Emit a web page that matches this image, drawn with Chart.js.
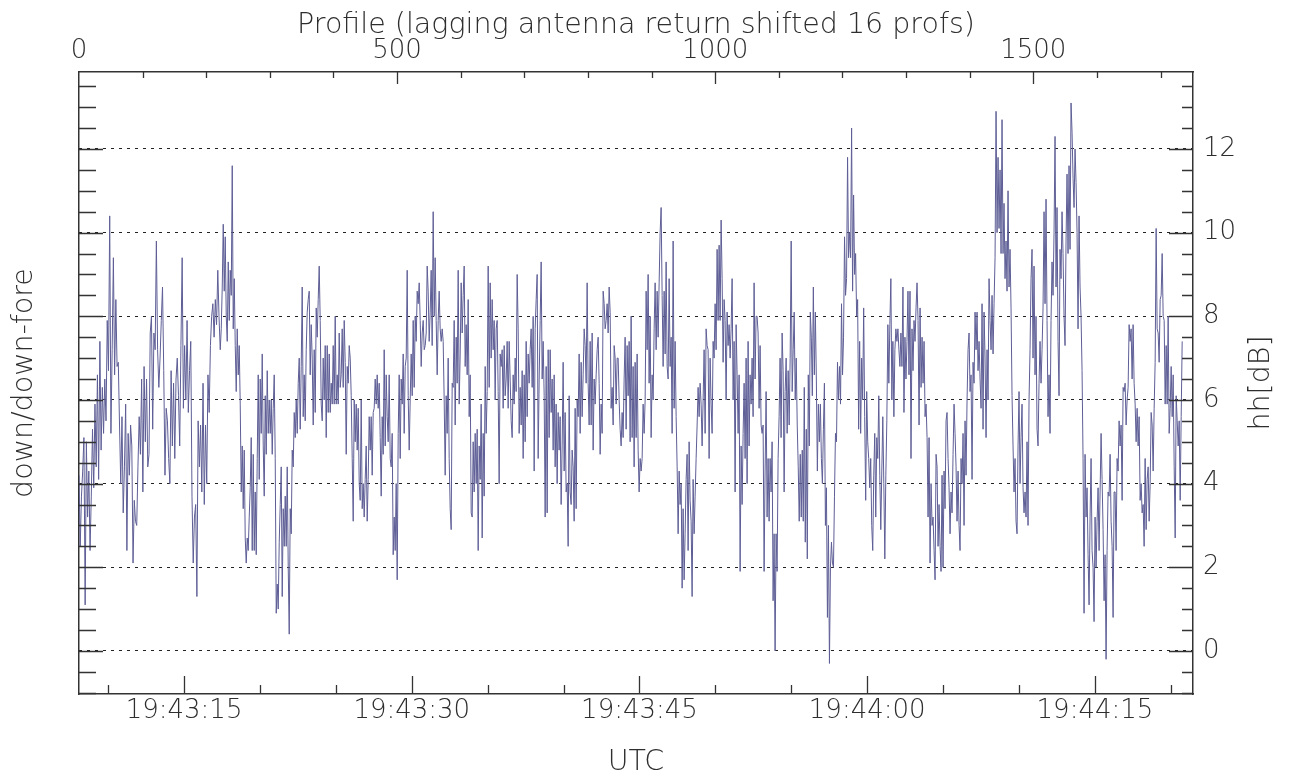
<!DOCTYPE html>
<html lang="en">

<head>
    <meta charset="UTF-8">
    <title>hh - lagging antenna</title>
    <style>
        body { margin: 0; background: #fff; }
        .grafico { width: 1289px; height: 783px; }
    </style>
</head>

<body>
    <div class="grafico">
        <canvas id="perfil"></canvas>
    </div>
</body>

</html>
<script src="https://cdn.jsdelivr.net/npm/chart.js"></script>
<script>

    // profile number where each traced stretch of the curve starts (last one ends at profEnd)
    const segStart = [0, 222, 442, 662, 882, 1102, 1322, 1542];
    const profEnd = 1734;

    const hh1 = [4.2, 2.5, 3.7, 4.3, 5.1, 1.1, 5.0, 3.2, 4.3, 2.4, 3.7, 5.3, 3.9, 5.9, 4.4, 6.6, 4.1, 7.4, 4.8, 6.3,
        5.2, 6.5, 5.5, 7.9, 6.7, 10.4, 5.2, 7.2, 9.4, 6.6, 8.4, 6.8, 6.9, 5.4, 4.0, 5.6, 3.3, 4.4, 5.9, 2.4,
        5.2, 4.2, 5.4, 4.9, 2.1, 3.6, 3.1, 3.0, 4.4, 5.6, 4.7, 6.5, 3.8, 6.8, 5.0, 6.5, 4.4, 4.7, 7.6, 8.0,
        5.3, 7.6, 7.2, 9.8, 7.2, 6.3, 7.0, 7.9, 8.7, 6.7, 4.2, 5.8, 5.5, 4.6, 4.0, 6.7, 4.9, 6.4, 4.6, 6.5,
        7.0, 6.1, 4.9, 7.3, 9.4, 5.8, 7.3, 6.0, 7.9, 5.7, 6.7, 7.4, 3.7, 2.1, 3.2, 3.5, 1.3, 5.5, 4.4, 5.4,
        3.8, 6.4, 3.5, 5.4, 4.0, 6.6, 5.7, 7.3, 8.0, 8.3, 7.5, 8.4, 7.8, 9.1, 8.0];
    const hh2 = [7.2, 7.7, 8.7, 10.2, 8.6, 9.9, 8.0, 7.4, 9.3, 7.9, 9.1, 8.5, 11.6, 7.7, 8.9, 7.3, 6.2, 7.7, 6.6, 7.3,
        5.9, 3.8, 4.9, 3.4, 4.8, 2.7, 2.1, 2.7, 2.4, 3.2, 3.9, 5.1, 2.4, 4.7, 2.4, 3.8, 2.3, 4.6, 6.6, 4.1,
        6.5, 5.2, 7.1, 4.9, 3.7, 6.1, 4.7, 6.7, 5.2, 6.0, 5.2, 6.0, 4.7, 5.8, 6.6, 4.6, 0.9, 1.6, 1.0, 2.6,
        3.5, 4.4, 1.3, 3.4, 2.5, 3.7, 2.5, 4.4, 2.0, 0.4, 3.4, 2.8, 4.8, 4.4, 5.7, 5.1, 6.0, 5.2, 6.4, 7.0,
        5.3, 6.8, 8.7, 5.6, 6.6, 5.5, 7.2, 8.1, 8.4, 8.6, 6.6, 7.8, 7.0, 5.4, 7.2, 5.7, 8.2, 7.5, 8.4, 9.2,
        7.9, 5.9, 5.5, 7.0, 6.0, 7.3, 5.1, 7.3, 5.7, 7.1, 5.7, 6.4, 5.9, 7.3, 5.9, 8.0, 5.9, 6.6, 5.9, 7.6,
        6.3, 6.6, 7.7, 6.3, 7.9, 6.9, 4.7, 6.8, 6.4, 7.3, 7.0, 6.1, 4.6, 3.1, 6.0, 5.0, 5.9, 4.8, 5.8, 4.0];
    const hh3 = [3.6, 6.0, 3.4, 4.0, 3.2, 4.1, 4.9, 3.1, 4.1, 5.6, 4.8, 5.6, 4.2, 5.7, 5.8, 6.5, 5.9, 6.6, 5.8, 6.4,
        5.1, 3.7, 5.6, 4.7, 7.2, 4.9, 6.6, 5.6, 5.0, 6.6, 4.6, 4.4, 5.2, 2.3, 3.2, 2.4, 4.0, 1.7, 5.2, 6.6,
        4.6, 6.5, 5.9, 7.1, 5.2, 6.8, 7.0, 9.1, 6.1, 4.8, 6.0, 7.1, 6.1, 7.9, 6.3, 8.0, 7.4, 8.6, 8.3, 8.8,
        7.9, 6.8, 7.6, 7.9, 7.2, 7.3, 7.6, 9.2, 8.6, 7.4, 8.1, 9.1, 7.3, 10.5, 8.0, 9.4, 7.9, 6.6, 7.9, 8.6,
        7.7, 7.4, 7.7, 7.4, 6.0, 4.2, 6.1, 5.2, 7.0, 4.6, 3.4, 2.9, 6.4, 6.3, 7.9, 5.4, 7.5, 6.4, 9.1, 5.9,
        7.1, 8.8, 7.6, 8.5, 9.2, 6.8, 7.8, 6.6, 8.4, 5.6, 6.6, 3.3, 3.2, 5.0, 3.8, 5.2, 4.0, 5.3, 2.4, 4.9,
        4.1, 5.9, 2.7, 5.2, 3.7, 6.8, 5.2, 6.2, 9.2, 6.3, 8.8, 7.0, 8.4, 7.2, 7.9, 6.0, 7.7, 7.9, 6.2, 4.0];
    const hh4 = [7.1, 6.8, 7.2, 5.8, 7.3, 6.1, 6.5, 7.4, 5.8, 7.4, 6.5, 5.5, 5.1, 6.6, 5.9, 7.0, 6.2, 9.0, 7.7, 5.2,
        6.3, 5.4, 6.7, 4.6, 6.6, 5.0, 7.4, 5.6, 7.1, 6.4, 7.2, 7.7, 6.3, 8.0, 4.3, 7.7, 8.4, 9.0, 4.6, 6.5,
        7.9, 9.3, 6.5, 7.4, 6.1, 3.2, 6.8, 3.3, 7.2, 5.1, 7.2, 5.7, 6.5, 4.8, 6.6, 4.4, 5.9, 4.0, 5.7, 4.8,
        5.6, 3.5, 4.9, 6.9, 4.3, 5.7, 3.8, 4.0, 2.5, 6.1, 3.8, 3.5, 4.8, 4.4, 3.1, 5.8, 3.4, 6.0, 5.6, 7.1,
        5.2, 6.9, 5.6, 6.6, 7.7, 7.3, 6.4, 8.8, 6.4, 5.4, 7.4, 5.4, 7.6, 4.8, 6.5, 5.9, 6.6, 7.2, 7.5, 6.4,
        4.7, 5.9, 5.2, 8.6, 8.3, 7.7, 7.9, 8.3, 7.6, 8.7, 8.1, 5.8, 6.3, 5.4, 7.3, 7.0, 5.9, 7.0, 7.0, 6.0,
        5.3, 4.9, 5.7, 5.1, 6.5, 7.5, 5.3, 7.3, 6.1, 7.4, 5.0, 8.0, 5.1, 6.8, 4.4, 6.9, 5.1, 7.1, 4.8, 3.8];
    const hh5 = [4.6, 4.3, 4.6, 5.9, 5.2, 6.0, 8.6, 7.2, 9.0, 6.4, 8.0, 5.1, 6.6, 6.0, 7.7, 8.8, 7.2, 8.6, 7.5, 8.8,
        10.0, 10.6, 8.5, 6.8, 8.6, 7.1, 9.3, 6.8, 6.5, 8.9, 6.8, 7.5, 5.2, 9.8, 5.8, 7.4, 5.6, 4.4, 2.8, 4.3,
        3.5, 4.0, 1.5, 3.4, 1.7, 2.8, 4.1, 4.7, 2.4, 5.0, 3.6, 3.1, 1.3, 4.1, 2.8, 3.7, 4.6, 5.4, 6.3, 5.6,
        6.4, 5.9, 4.9, 6.0, 7.2, 5.2, 7.7, 7.3, 7.2, 4.6, 7.0, 5.9, 5.2, 7.4, 7.0, 8.3, 7.2, 9.6, 7.9, 9.7,
        7.9, 10.3, 8.9, 6.9, 8.4, 7.9, 6.0, 8.1, 7.3, 7.8, 7.0, 7.7, 8.9, 6.0, 7.4, 3.8, 7.8, 6.6, 5.2, 6.6,
        1.9, 4.9, 3.5, 5.2, 6.4, 4.6, 7.0, 4.0, 7.4, 4.9, 6.6, 5.9, 7.0, 5.6, 8.8, 6.5, 8.0, 8.0, 7.6, 5.8,
        7.3, 5.4, 5.2, 5.4, 1.9, 4.3, 6.2, 3.2, 4.6, 3.1, 4.6, 3.8, 5.0, 1.2, 2.8, 0.0, 2.8, 1.9, 4.6, 5.6];
    const hh6 = [7.0, 5.1, 7.6, 6.7, 3.8, 6.2, 7.0, 5.2, 6.7, 5.4, 7.0, 9.8, 6.2, 7.2, 8.1, 6.0, 7.0, 5.4, 4.4, 3.1,
        4.7, 3.2, 4.8, 3.1, 6.3, 2.6, 5.3, 2.2, 6.6, 4.9, 8.1, 7.5, 6.1, 8.7, 6.6, 8.1, 6.5, 4.3, 5.9, 5.0,
        5.9, 4.6, 4.0, 5.3, 6.4, 3.0, 3.9, 0.8, 3.0, -0.3, 2.0, 2.6, 2.1, 2.0, 3.7, 5.2, 5.0, 6.9, 6.0, 6.8,
        5.9, 8.3, 6.6, 7.5, 9.9, 8.5, 8.9, 11.8, 9.4, 10.0, 9.4, 12.5, 8.6, 10.9, 9.0, 9.5, 8.0, 8.4, 5.3, 7.4,
        5.2, 7.0, 6.0, 8.2, 5.6, 3.6, 6.2, 5.0, 4.6, 3.9, 4.6, 3.0, 2.4, 4.2, 5.2, 3.2, 5.1, 4.6, 6.1, 4.2,
        2.9, 4.3, 5.6, 4.0, 2.2, 4.2, 5.5, 7.8, 6.4, 7.8, 8.9, 6.0, 7.4, 5.6, 7.2, 7.7, 7.4, 7.7, 7.2, 6.8,
        7.6, 6.8, 8.7, 5.7, 7.5, 6.5, 7.4, 8.6, 6.6, 8.6, 4.6, 7.7, 6.7, 7.9, 7.4, 8.2, 8.8, 7.9, 5.4];
    const hh7 = [8.2, 6.3, 7.5, 6.4, 7.4, 5.6, 5.9, 5.1, 3.2, 5.1, 2.1, 4.0, 3.0, 3.2, 2.4, 1.7, 4.7, 4.4, 2.5, 3.5,
        2.5, 1.9, 4.2, 2.0, 4.3, 3.4, 5.5, 5.7, 4.6, 3.9, 2.8, 3.8, 3.3, 4.7, 5.9, 5.2, 4.4, 3.1, 4.3, 3.0,
        2.4, 4.6, 4.0, 5.2, 3.0, 5.5, 4.2, 6.0, 7.2, 7.6, 6.2, 6.6, 4.1, 6.9, 6.4, 8.1, 7.2, 8.1, 6.7, 7.4,
        6.5, 5.8, 8.3, 5.3, 8.1, 7.0, 5.1, 7.2, 6.0, 8.9, 7.9, 7.2, 8.5, 7.1, 8.3, 9.4, 12.9, 10.0, 11.8, 10.1,
        11.5, 9.5, 12.7, 9.5, 10.7, 8.9, 9.8, 8.6, 11.0, 8.7, 9.6, 8.2, 6.1, 4.9, 3.8, 4.6, 3.1, 2.8, 4.9, 6.2,
        4.0, 5.1, 5.9, 3.9, 3.3, 3.8, 3.2, 5.0, 3.0, 6.0, 7.2, 8.9, 9.6, 7.0, 9.2, 6.6, 8.0, 5.3, 4.9, 6.4,
        7.4, 6.4, 7.2, 8.2, 10.5, 8.3, 10.8, 7.9, 5.6, 6.6, 5.2, 7.9, 9.3, 8.5, 10.0, 12.3, 8.7, 10.6, 7.4, 6.1];
    const hh8 = [9.6, 8.9, 10.5, 9.5, 8.0, 7.3, 9.8, 11.4, 9.5, 11.6, 9.6, 13.1, 12.4, 11.3, 10.6, 12.0, 11.2, 10.0, 7.7, 10.4,
        8.7, 8.0, 6.7, 4.6, 0.9, 4.7, 3.2, 3.9, 2.3, 1.1, 3.2, 4.6, 2.4, 2.0, 0.7, 3.2, 2.0, 3.1, 3.9, 2.4,
        3.8, 5.2, 4.1, 2.9, 1.2, 2.3, -0.2, 2.4, 3.8, 3.7, 4.7, 3.1, 2.5, 0.8, 3.8, 3.8, 2.4, 4.6, 4.3, 5.5,
        4.9, 5.4, 3.6, 6.3, 6.2, 6.4, 5.4, 6.0, 6.3, 7.8, 7.4, 7.7, 6.5, 7.8, 6.4, 5.9, 5.0, 5.8, 4.9, 5.6,
        3.6, 4.0, 3.3, 3.5, 2.5, 4.6, 2.9, 4.1, 4.4, 3.1, 4.0, 5.7, 5.4, 4.3, 5.8, 6.9, 10.1, 7.7, 7.6, 6.9,
        8.4, 8.5, 9.5, 8.0, 7.9, 5.9, 7.3, 5.9, 8.0, 5.2, 5.8, 6.8, 5.6, 6.6, 4.4, 2.7, 6.1, 5.5, 4.9, 5.5,
        3.6, 5.6, 7.4];
    const hhSegs = [hh1, hh2, hh3, hh4, hh5, hh6, hh7, hh8];

    // axes
    const profMax = 1751;
    const profTicks = [0, 500, 1000, 1500];
    const profLabels = ['0', '500', '1000', '1500'];
    const tStart = 8.08;   // seconds after 19:43:00
    const tEnd = 81.46;
    const timeTicks = [15, 30, 45, 60, 75];
    const timeLabels = ['19:43:15', '19:43:30', '19:43:45', '19:44:00', '19:44:15'];
    const yMin = -1.03;
    const yMax = 13.84;
    const yTicks = [0, 2, 4, 6, 8, 10, 12];
    const yLabels = ['0', '2', '4', '6', '8', '10', '12'];

    const fonte = '"DejaVu Sans", sans-serif';
    const corTexto = '#2e2e2e';
    const corEixo = '#333';
    const corLinha = '#5e5e96';

    var pontos = [];
    hhSegs.forEach(function (seg, k) {
        const p0 = segStart[k];
        const ultimo = k == hhSegs.length - 1;
        const p1 = ultimo ? profEnd : segStart[k + 1];
        const passo = (p1 - p0) / (ultimo ? seg.length - 1 : seg.length);
        for (let j = 0; j < seg.length; j++) {
            pontos.push({ x: p0 + j * passo, y: seg[j] });
        }
    });

    // inward tick marks (major / minor) and the right-hand title
    const marcas = {
        id: 'marcas',
        afterDraw(chart) {
            const ctx = chart.ctx;
            const a = chart.chartArea;
            const s = chart.scales;
            ctx.save();
            ctx.strokeStyle = corEixo;
            ctx.lineWidth = 1.3;
            ctx.beginPath();
            for (let v = -1; v <= 13.5; v += 0.5) {
                const y = Math.round(s.y.getPixelForValue(v)) + 0.5;
                const maior = v % 2 == 0;
                ctx.moveTo(a.left, y); ctx.lineTo(a.left + (maior ? 24 : 17), y);
                ctx.moveTo(a.right, y); ctx.lineTo(a.right - (maior ? 24 : 11), y);
            }
            for (let p = 100; p < profMax; p += 100) {
                const x = Math.round(s.xProf.getPixelForValue(p)) + 0.5;
                ctx.moveTo(x, a.top); ctx.lineTo(x, a.top + (p % 500 == 0 ? 12 : 6));
            }
            for (let t = 10; t <= 80; t += 5) {
                const x = Math.round(s.xTime.getPixelForValue(t)) + 0.5;
                ctx.moveTo(x, a.bottom); ctx.lineTo(x, a.bottom - (t % 15 == 0 ? 18 : 9));
            }
            ctx.stroke();

            ctx.fillStyle = corTexto;
            ctx.font = '200 28.5px ' + fonte;
            ctx.textAlign = 'center';
            ctx.textBaseline = 'middle';
            ctx.translate(1262, (a.top + a.bottom) / 2);
            ctx.rotate(-Math.PI / 2);
            ctx.fillText('hh[dB]', 0, 0);
            ctx.restore();
        }
    };

    const fonteTick = { family: fonte, size: 26, weight: 200 };
    const fonteTitulo = { family: fonte, size: 28.5, weight: 200 };

    var grafico = new Chart(document.getElementById('perfil'), {
        type: 'line',
        data: {
            datasets: [{
                data: pontos,
                xAxisID: 'xProf',
                yAxisID: 'y',
                borderColor: corLinha,
                borderWidth: 1,
                pointRadius: 0,
                tension: 0,
                fill: false
            }]
        },
        options: {
            responsive: true,
            maintainAspectRatio: false,
            animation: false,
            layout: { padding: 0, autoPadding: false },
            plugins: {
                legend: { display: false },
                tooltip: { enabled: false }
            },
            scales: {
                xProf: {
                    type: 'linear',
                    position: 'top',
                    min: 0,
                    max: profMax,
                    afterBuildTicks: function (s) { s.ticks = profTicks.map(v => ({ value: v })); },
                    afterFit: function (s) { s.height = 72; },
                    grid: { display: false, drawTicks: false },
                    border: { display: true, color: corEixo, width: 1.5 },
                    ticks: {
                        font: fonteTick, color: corTexto, padding: 5, maxRotation: 0, autoSkip: false,
                        callback: function (v, i) { return profLabels[i]; }
                    },
                    title: { display: true, text: 'Profile (lagging antenna return shifted 16 profs)', font: fonteTitulo, color: corTexto, padding: { top: 8, bottom: 0 } }
                },
                xTime: {
                    type: 'linear',
                    position: 'bottom',
                    min: tStart,
                    max: tEnd,
                    afterBuildTicks: function (s) { s.ticks = timeTicks.map(v => ({ value: v })); },
                    afterFit: function (s) { s.height = 89; },
                    grid: { display: false, drawTicks: false },
                    border: { display: true, color: corEixo, width: 1.5 },
                    ticks: {
                        font: fonteTick, color: corTexto, padding: 2, maxRotation: 0, autoSkip: false,
                        callback: function (v, i) { return timeLabels[i]; }
                    },
                    title: { display: true, text: 'UTC', font: fonteTitulo, color: corTexto, padding: { top: 0, bottom: 3 } }
                },
                yL: {
                    type: 'linear',
                    position: 'left',
                    min: yMin,
                    max: yMax,
                    afterFit: function (s) { s.width = 79; },
                    grid: { display: false, drawTicks: false },
                    border: { display: true, color: corEixo, width: 1.5 },
                    ticks: { display: false },
                    title: { display: true, text: 'down/down-fore', font: fonteTitulo, color: corTexto, padding: { top: 7, bottom: 0 } }
                },
                y: {
                    type: 'linear',
                    position: 'right',
                    min: yMin,
                    max: yMax,
                    afterBuildTicks: function (s) { s.ticks = yTicks.map(v => ({ value: v })); },
                    afterFit: function (s) { s.width = 96; },
                    grid: { display: true, drawTicks: false, color: '#222', lineWidth: 1 },
                    border: { display: true, color: corEixo, width: 1.5, dash: [3, 5] },
                    ticks: {
                        font: fonteTick, color: corTexto, padding: 10,
                        callback: function (v, i) { return yLabels[i]; }
                    }
                }
            }
        },
        plugins: [marcas]
    });
</script>
